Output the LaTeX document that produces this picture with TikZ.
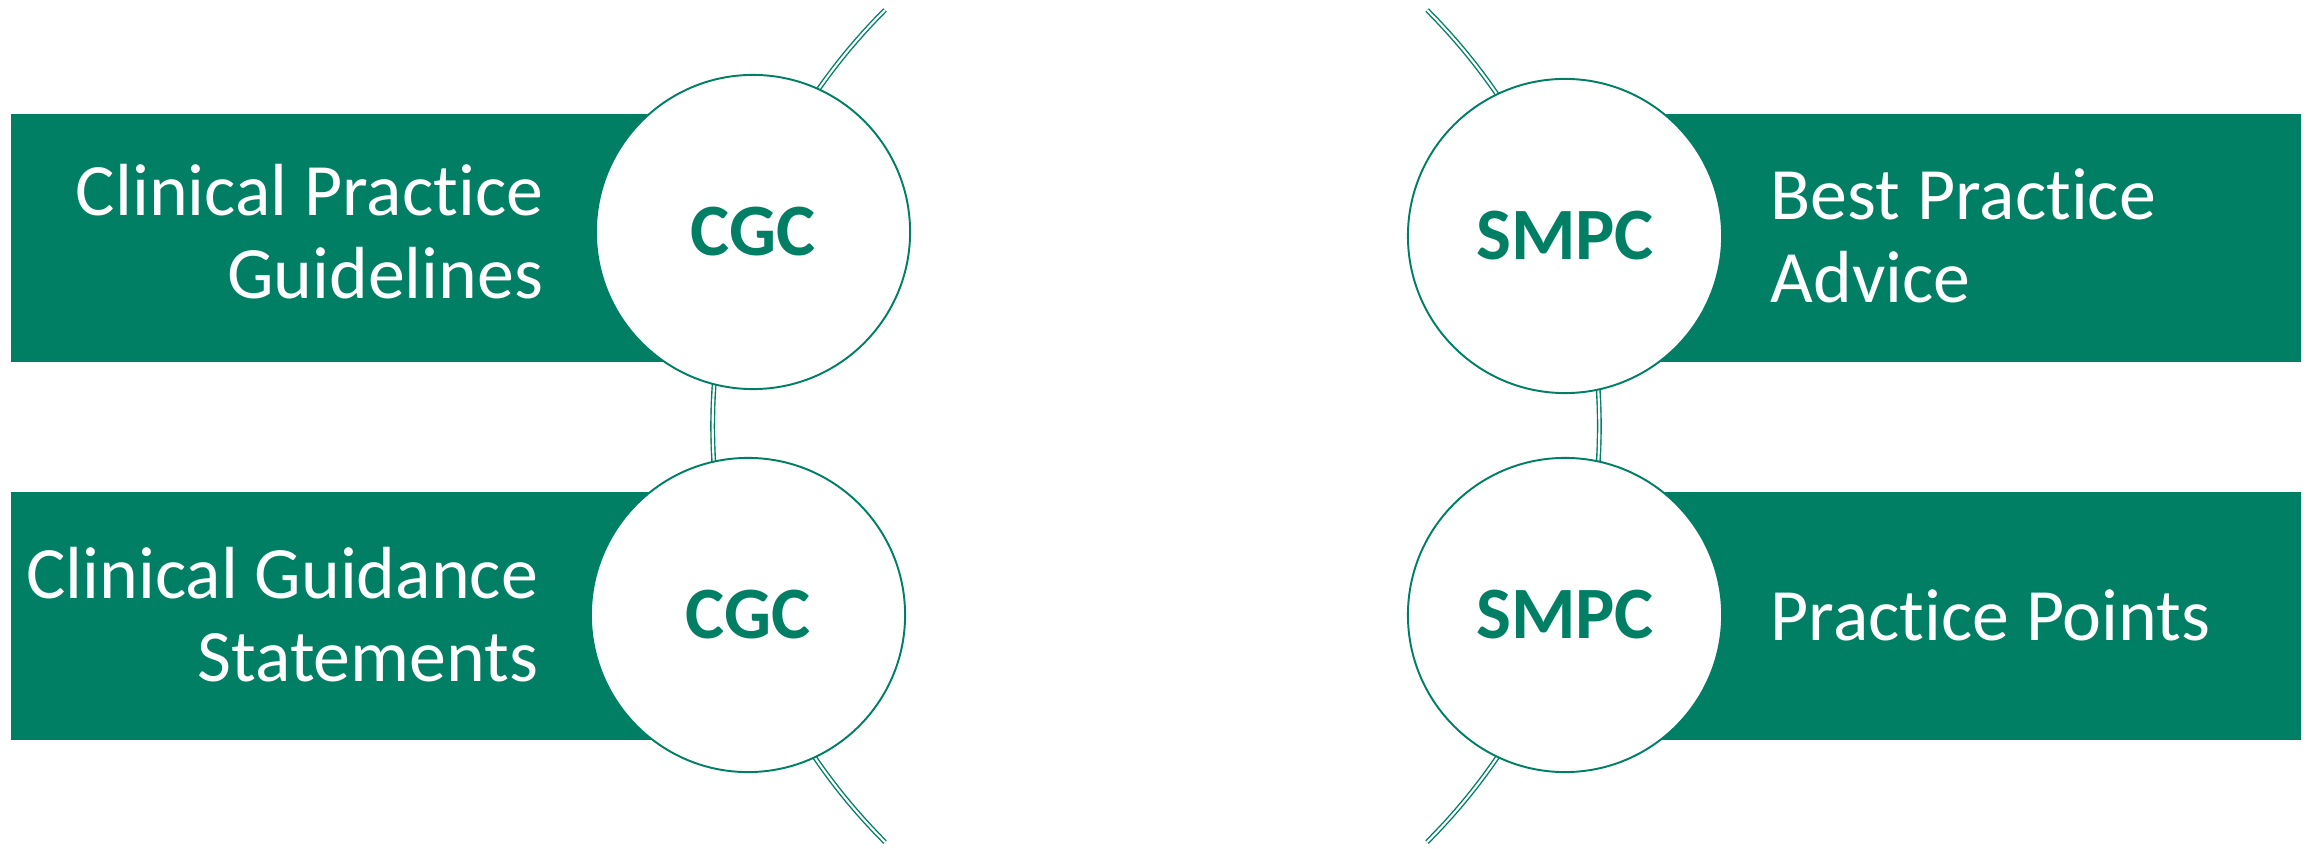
\documentclass[tikz,border=0pt]{standalone}
\usepackage{fontspec}
\setmainfont{Carlito}[Ligatures=NoCommon]
\usetikzlibrary{positioning}
\definecolor{sgreen}{RGB}{0,127,101}

\begin{document}
\begin{tikzpicture}[x=0.01cm, y=0.01cm,
  band/.style={fill=sgreen, minimum width=7.43cm, minimum height=2.48cm, inner sep=0pt},
  badge/.style={circle, draw=sgreen, line width=0.55pt, fill=white, minimum size=3.14cm, inner sep=0pt, text=sgreen, font=\fontsize{21}{25}\selectfont\bfseries},
  sidetext/.style={text=white, inner sep=0pt, font=\fontsize{21}{23.6}\selectfont},
  rail/.style={draw=sgreen, line width=0.4pt, double=white, double distance=0.6pt}]
\useasboundingbox (0,0) rectangle (2315,848);
\coordinate (railL) at (885,838);
\coordinate (railR) at (1427,838);
\draw[rail] (railL) arc[start angle=135, end angle=225, radius=5.88cm];
\draw[rail] (railR) arc[start angle=45, end angle=-45, radius=5.88cm];
\node[band, anchor=west] (bandCPG) at (10,610) {};
\node[band, anchor=west] (bandCGS) at (10,232) {};
\node[band, anchor=east] (bandBPA) at (2302,610) {};
\node[band, anchor=east] (bandPP) at (2302,232) {};
\node[badge] (cgcA) at (753,616) {CGC};
\node[badge] (cgcB) at (748,233) {CGC};
\node[badge] (smpcA) at (1565,612) {SMPC};
\node[badge] (smpcB) at (1565,233) {SMPC};
\node[sidetext, align=right, left=0.51cm of cgcA] (cpg) {Clinical Practice\\Guidelines};
\node[sidetext, align=right, left=0.51cm of cgcB] (cgs) {Clinical Guidance\\Statements};
\node[sidetext, align=left, right=0.47cm of smpcA] (bpa) {Best Practice\\Advice};
\node[sidetext, align=left, right=0.47cm of smpcB] (pp) {Practice Points};
\end{tikzpicture}
\end{document}
